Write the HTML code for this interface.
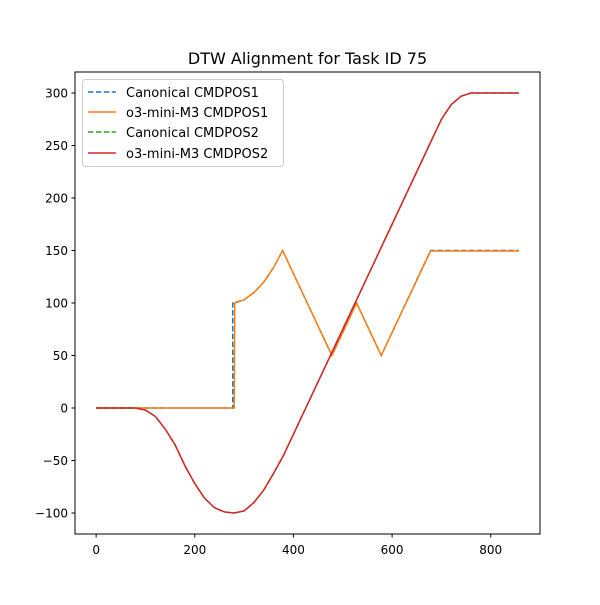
<!DOCTYPE html>
<html><head><meta charset="utf-8"><style>
body{margin:0;background:#fff}
svg text{font-family:"DejaVu Sans","Liberation Sans",sans-serif;fill:#000}
</style></head><body>
<svg id="chart" width="600" height="600" xmlns="http://www.w3.org/2000/svg">
<rect width="600" height="600" fill="#fff"/>
<text x="307.5" y="64" text-anchor="middle" font-size="16">DTW Alignment for Task ID 75</text>
<g id="plot"></g>
<rect x="75" y="72" width="465" height="462" fill="none" stroke="#000" stroke-width="1"/>
<g id="axes"></g>
<g>
<rect x="82.5" y="79.5" width="201" height="87" rx="3" fill="#fff" fill-opacity="0.8" stroke="#ccc"/>
<g><line x1="88" y1="92" x2="116" y2="92" stroke="#1f77b4" stroke-width="1.5" stroke-dasharray="5.5,2.4"/><text x="126" y="97" font-size="13">Canonical CMDPOS1</text></g>
<g><line x1="88" y1="112" x2="116" y2="112" stroke="#ff7f0e" stroke-width="1.5"/><text x="126" y="117" font-size="13">o3-mini-M3 CMDPOS1</text></g>
<g><line x1="88" y1="132" x2="116" y2="132" stroke="#2ca02c" stroke-width="1.5" stroke-dasharray="5.5,2.4"/><text x="126" y="137" font-size="13">Canonical CMDPOS2</text></g>
<g><line x1="88" y1="153" x2="116" y2="153" stroke="#d62728" stroke-width="1.5"/><text x="126" y="158" font-size="13">o3-mini-M3 CMDPOS2</text></g>
</g>
</svg>
<script>
const xTicks=[0,200,400,600,800];
const yTicks=[-100,-50,0,50,100,150,200,250,300];
const canon1X=[0,277,277,300,320,340,360,378,478,528,578,678,857];
const canon1Y=[0,0,100,103,110,120,134,150,50,100,50,150,150];
const o3pos1X=[0,280,281,300,320,340,360,378,478,528,578,678,857];
const o3pos1Y=[0,0,100,103,110,120,134,150,50,100,50,149.5,149.5];
const canon2X=[0,80,100,120,140,160,180,200,220,240,260,280,300,320,340,360,380,480,580,680,700,720,740,760,775,857];
const canon2Y=[0,0,-2,-8,-20,-35,-55,-72,-86,-95,-99,-100,-98,-90,-78,-62,-45,55,155,255,275,289,297,300,300,300];
const o3pos2X=canon2X.slice();
const o3pos2Y=canon2Y.slice();
const X0=75,X1=540,Y0=534,Y1=72,xmin=-42.85,xmax=899.85,ymin=-120,ymax=320;
const sx=v=>X0+(v-xmin)/(xmax-xmin)*(X1-X0);
const sy=v=>Y0-(v-ymin)/(ymax-ymin)*(Y0-Y1);
const NS="http://www.w3.org/2000/svg";
const plot=document.getElementById('plot'),axes=document.getElementById('axes');
function line(xs,ys,color,dash,name){
 const p=document.createElementNS(NS,'polyline');
 p.setAttribute('points',xs.map((x,i)=>sx(x)+','+sy(ys[i])).join(' '));
 p.setAttribute('fill','none');p.setAttribute('stroke',color);p.setAttribute('stroke-width','1.5');
 if(dash)p.setAttribute('stroke-dasharray','5.5,2.4');
 
 
 plot.appendChild(p);
}
line(canon1X,canon1Y,'#1f77b4',true,'canonical-cmdpos1-line');
line(o3pos1X,o3pos1Y,'#ff7f0e',false,'o3-cmdpos1-line');
line(canon2X,canon2Y,'#2ca02c',true,'canonical-cmdpos2-line');
line(o3pos2X,o3pos2Y,'#d62728',false,'o3-cmdpos2-line');
xTicks.forEach(t=>{
 const x=sx(t);
 const l=document.createElementNS(NS,'line');
 l.setAttribute('x1',x);l.setAttribute('x2',x);l.setAttribute('y1',534);l.setAttribute('y2',537.5);l.setAttribute('stroke','#000');
 
 
 axes.appendChild(l);
 const tx=document.createElementNS(NS,'text');
 tx.setAttribute('x',x);tx.setAttribute('y',554);tx.setAttribute('text-anchor','middle');tx.setAttribute('font-size','12');
 tx.textContent=t;
 
 
 axes.appendChild(tx);
});
yTicks.forEach(t=>{
 const y=sy(t);
 const l=document.createElementNS(NS,'line');
 l.setAttribute('x1',71.5);l.setAttribute('x2',75);l.setAttribute('y1',y);l.setAttribute('y2',y);l.setAttribute('stroke','#000');
 
 
 axes.appendChild(l);
 const tx=document.createElementNS(NS,'text');
 tx.setAttribute('x',68);tx.setAttribute('y',y+4.5);tx.setAttribute('text-anchor','end');tx.setAttribute('font-size','12');
 tx.textContent=t<0?'\u2212'+(-t):t;
 
 
 axes.appendChild(tx);
});
</script>
</body></html>
